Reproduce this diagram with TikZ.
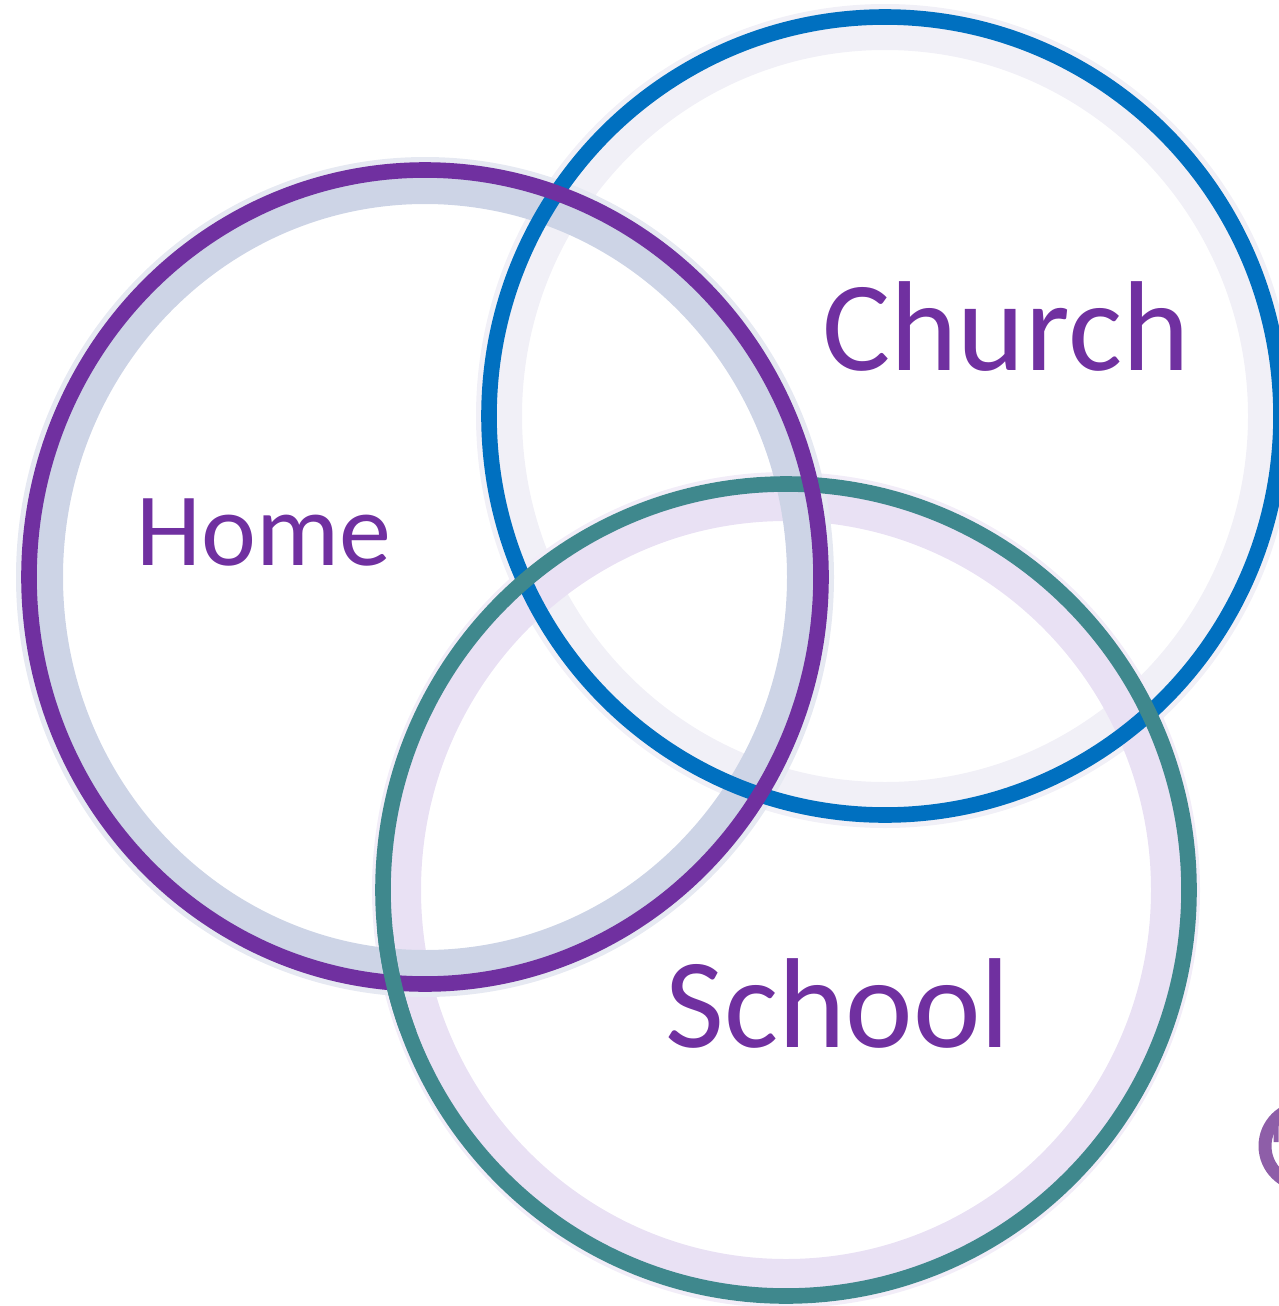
\documentclass[tikz,border=0pt]{standalone}
\usepackage{fontspec}
\setmainfont{Carlito}
\usepackage{xcolor}
\definecolor{homepurple}{HTML}{7030A0}
\definecolor{churchblue}{HTML}{0070C0}
\definecolor{schoolteal}{HTML}{3F888D}
\definecolor{homeband}{HTML}{CDD4E6}
\definecolor{homeglow}{HTML}{E6E9F2}
\definecolor{churchband}{HTML}{F1F0F7}
\definecolor{schoolband}{HTML}{E9E1F4}
\definecolor{logopurple}{HTML}{8E5EA8}

\begin{document}
\begin{tikzpicture}[x=0.5pt, y=-0.5pt]
    \tikzstyle{ring} = [line width=7.8pt];
    \tikzstyle{placename} = [anchor=base, text=homepurple, inner sep=0pt];
    \useasboundingbox (0,0) rectangle (1279,1306);

    \coordinate (H) at (425,577);
    \coordinate (C) at (885,416);
    \coordinate (S) at (786,890);

    % soft bands under the rings
    \draw [churchband, line width=23pt] (C) ellipse [x radius=386, y radius=389];
    \draw [schoolband, line width=19pt] (S) ellipse [x radius=384, y radius=388];
    \draw [schoolband!60!white, line width=2pt] (S) ellipse [x radius=412, y radius=416];
    \draw [homeglow, line width=3pt] (H) ellipse [x radius=406, y radius=417];
    \draw [homeband, line width=17pt] (H) ellipse [x radius=379, y radius=390];

    % rings
    \draw [ring, churchblue] (C) ellipse [x radius=396, y radius=399];
    \draw [ring, schoolteal] (S) ellipse [x radius=403, y radius=406];
    \draw [ring, homepurple] (H) ellipse [x radius=396, y radius=407];
    \begin{scope}
        \clip (340,930) rectangle (440,1030);
        \draw [ring, schoolteal] (S) ellipse [x radius=403, y radius=406];
    \end{scope}

    % names
    \node [placename, font=\fontsize{52}{52}\selectfont] (home) at (264,565) {Home};
    \node [placename, font=\fontsize{64}{64}\selectfont] (church) at (1006,370) {Church};
    \node [placename, font=\fontsize{64}{64}\selectfont] (school) at (838,1047) {School};

    % edge of the logo
    \begin{scope}
        \clip (0,0) rectangle (1279,1306);
        \draw [logopurple, line width=6.5pt] (1304,1146) circle [radius=39];
        \draw [logopurple, line width=2.5pt] (1276,1142) -- (1276,1124) .. controls (1276,1114) and (1280,1110) .. (1286,1110);
    \end{scope}
\end{tikzpicture}
\end{document}
